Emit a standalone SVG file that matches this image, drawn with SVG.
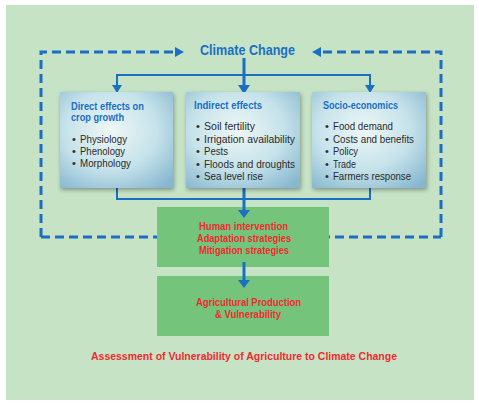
<svg xmlns="http://www.w3.org/2000/svg" width="479" height="407" viewBox="0 0 479 407">
<defs>
<radialGradient id="bg" cx="0.45" cy="0.4" r="0.75">
<stop offset="0" stop-color="#eef7f6"/>
<stop offset="0.55" stop-color="#c5e2ea"/>
<stop offset="1" stop-color="#86b7cf"/>
</radialGradient>
<filter id="sh" x="-10%" y="-10%" width="125%" height="130%">
<feGaussianBlur in="SourceAlpha" stdDeviation="2"/>
<feOffset dx="1" dy="2"/>
<feComponentTransfer><feFuncA type="linear" slope="0.35"/></feComponentTransfer>
<feMerge><feMergeNode/><feMergeNode in="SourceGraphic"/></feMerge>
</filter>
</defs>
<style>
.t{font-family:"Liberation Sans",Arial,sans-serif}
.ttl{font-family:"Liberation Sans",Arial,sans-serif;font-weight:bold;font-size:11px;fill:#1a6fc4}
.b{font-family:"Liberation Sans",Arial,sans-serif;font-size:11px;fill:#2b2b2b}
.r{font-family:"Liberation Sans",Arial,sans-serif;font-weight:bold;font-size:10.5px;fill:#ee2a2f;text-anchor:middle}
.box{fill:url(#bg);filter:url(#sh)}
.gb{fill:#75c47b}
.dash{fill:none;stroke:#1a6fc4;stroke-width:3;stroke-dasharray:9 5}
.ln{fill:none;stroke:#1a6fc4;stroke-width:2}
.lnt{fill:none;stroke:#1a6fc4;stroke-width:3}
.ah{fill:#1a6fc4}
</style>
<rect x="0" y="0" width="479" height="407" fill="#ffffff"/>
<rect x="6" y="5" width="468" height="395" fill="#c6e3c6"/>

<g id="connectors">
<path class="dash" d="M41,237 L41,52 L175,52"/>
<path class="ah" d="M175,47 L184,52 L175,57 Z"/>
<path class="dash" d="M441,237 L441,52 L320,52"/>
<path class="ah" d="M321,47 L312,52 L321,57 Z"/>
<path class="dash" d="M41,237 L441,237"/>
<path class="lnt" d="M244,58 L244,86"/>
<path class="ln" d="M117,86 L117,75 L370,75 L370,86"/>
<path class="ah" d="M112,85 L117,93 L122,85 Z"/>
<path class="ah" d="M238,85 L244,94 L250,85 Z"/>
<path class="ah" d="M365,85 L370,93 L375,85 Z"/>
<path class="ln" d="M117,188 L117,199 L370,199 L370,188"/>
</g>

<g id="human-intervention">
<rect class="gb" x="157" y="207" width="172" height="60"/>
<text class="r" x="243.5" y="230" textLength="89" lengthAdjust="spacingAndGlyphs">Human intervention</text>
<text class="r" x="244" y="242" textLength="94" lengthAdjust="spacingAndGlyphs">Adaptation strategies</text>
<text class="r" x="244" y="254" textLength="90" lengthAdjust="spacingAndGlyphs">Mitigation strategies</text>
</g>

<g id="agri-production">
<rect class="gb" x="157" y="276" width="172" height="60"/>
<text class="r" x="248.5" y="306" textLength="105" lengthAdjust="spacingAndGlyphs">Agricultural Production</text>
<text class="r" x="248" y="318" textLength="66" lengthAdjust="spacingAndGlyphs">&amp; Vulnerability</text>
</g>

<g id="connectors-lower">
<path class="lnt" d="M244,188 L244,211"/>
<path class="ah" d="M238,210 L244,218 L250,210 Z"/>
<path class="lnt" d="M244,262 L244,281"/>
<path class="ah" d="M238,280 L244,288 L250,280 Z"/>
</g>

<g id="climate-change">
<text class="t" x="200" y="55" font-size="14" font-weight="bold" fill="#1a6fc4" textLength="95" lengthAdjust="spacingAndGlyphs">Climate Change</text>
</g>

<g id="direct-effects">
<rect class="box" x="60" y="92" width="113" height="96"/>
<text class="ttl" x="71" y="110" textLength="73" lengthAdjust="spacingAndGlyphs">Direct effects on</text>
<text class="ttl" x="71" y="121" textLength="53" lengthAdjust="spacingAndGlyphs">crop growth</text>
<text class="b" x="72" y="143">•</text>
<text class="b" x="80" y="143" textLength="47" lengthAdjust="spacingAndGlyphs">Physiology</text>
<text class="b" x="72" y="155">•</text>
<text class="b" x="80" y="155" textLength="45" lengthAdjust="spacingAndGlyphs">Phenology</text>
<text class="b" x="72" y="167">•</text>
<text class="b" x="80" y="167" textLength="51" lengthAdjust="spacingAndGlyphs">Morphology</text>
</g>

<g id="indirect-effects">
<rect class="box" x="186" y="92" width="114" height="96"/>
<text class="ttl" x="194" y="109" textLength="68" lengthAdjust="spacingAndGlyphs">Indirect effects</text>
<text class="b" x="196" y="130">•</text>
<text class="b" x="204" y="130" textLength="51" lengthAdjust="spacingAndGlyphs">Soil fertility</text>
<text class="b" x="196" y="142.5">•</text>
<text class="b" x="204" y="142.5" textLength="91" lengthAdjust="spacingAndGlyphs">Irrigation availability</text>
<text class="b" x="196" y="155">•</text>
<text class="b" x="204" y="155" textLength="24" lengthAdjust="spacingAndGlyphs">Pests</text>
<text class="b" x="196" y="167.5">•</text>
<text class="b" x="204" y="167.5" textLength="91" lengthAdjust="spacingAndGlyphs">Floods and droughts</text>
<text class="b" x="196" y="180">•</text>
<text class="b" x="204" y="180" textLength="59" lengthAdjust="spacingAndGlyphs">Sea level rise</text>
</g>

<g id="socio-economics">
<rect class="box" x="312" y="92" width="114" height="96"/>
<text class="ttl" x="323" y="109" textLength="75" lengthAdjust="spacingAndGlyphs">Socio-economics</text>
<text class="b" x="325" y="130">•</text>
<text class="b" x="333" y="130" textLength="60" lengthAdjust="spacingAndGlyphs">Food demand</text>
<text class="b" x="325" y="142.5">•</text>
<text class="b" x="333" y="142.5" textLength="81" lengthAdjust="spacingAndGlyphs">Costs and benefits</text>
<text class="b" x="325" y="155">•</text>
<text class="b" x="333" y="155" textLength="25" lengthAdjust="spacingAndGlyphs">Policy</text>
<text class="b" x="325" y="167.5">•</text>
<text class="b" x="333" y="167.5" textLength="23" lengthAdjust="spacingAndGlyphs">Trade</text>
<text class="b" x="325" y="180">•</text>
<text class="b" x="333" y="180" textLength="78" lengthAdjust="spacingAndGlyphs">Farmers response</text>
</g>

<g id="assessment">
<text class="r" x="244" y="360" textLength="306" lengthAdjust="spacingAndGlyphs">Assessment of Vulnerability of Agriculture to Climate Change</text>
</g>
</svg>
